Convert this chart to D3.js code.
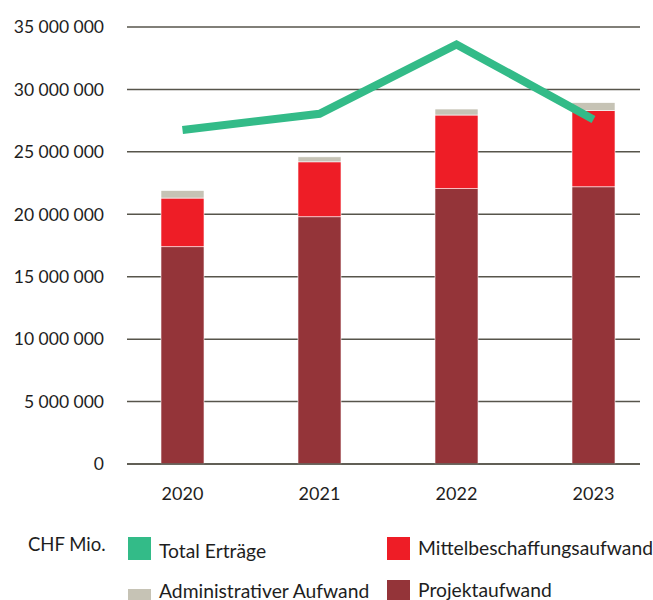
<!DOCTYPE html>
<html>
<head>
<meta charset="utf-8">
<script src="https://cdn.jsdelivr.net/npm/d3@7"></script>
<style>
  body { margin: 0; background: #fff; }
  svg text { font-family: Lato, "Open Sans", sans-serif; fill: #1e1e1e; }
</style>
</head>
<body>
<div id="chart"></div>
<script>
const years = ['2020', '2021', '2022', '2023'];
const projekt = [17400000, 19800000, 22050000, 22200000];
const mittel = [3900000, 4400000, 5900000, 6100000];
const admin = [600000, 400000, 480000, 640000];
const ertraege = [26750000, 28050000, 33600000, 27600000];
const yTicks = [0, 5000000, 10000000, 15000000, 20000000, 25000000, 30000000, 35000000];

const seriesNames = ['Projektaufwand', 'Mittelbeschaffungsaufwand', 'Administrativer Aufwand'];
const colors = {
    'Projektaufwand': '#943439',
    'Mittelbeschaffungsaufwand': '#ee1d26',
    'Administrativer Aufwand': '#c6c3b5',
    'Total Erträge': '#33bb88'
};

const width = 653, height = 600;
const svg = d3.select('#chart').append('svg')
    .attr('width', width)
    .attr('height', height);

const x = d3.scaleBand()
    .domain(years)
    .range([114, 662])
    .paddingInner(0.686)
    .paddingOuter(0.343);

const y = d3.scaleLinear()
    .domain([0, 35000000])
    .range([464, 27]);

const fmt = d3.formatLocale({ decimal: '.', thousands: ' ', grouping: [3], currency: ['', ''] }).format(',d');

// gridlines
svg.append('g').selectAll('line')
    .data(yTicks)
    .enter()
    .append('line')
    .attr('x1', 127)
    .attr('x2', 640)
    .attr('y1', d => y(d))
    .attr('y2', d => y(d))
    .attr('stroke', '#57554b')
    .attr('stroke-width', 1.5);

svg.append('g').selectAll('text')
    .data(yTicks)
    .enter()
    .append('text')
    .attr('x', 104)
    .attr('y', d => y(d))
    .attr('dy', '0.36em')
    .attr('text-anchor', 'end')
    .style('font-size', '17.5px')
    .text(d => fmt(d));

// stacked bars
const table = years.map((yr, i) => ({
    year: yr,
    'Projektaufwand': projekt[i],
    'Mittelbeschaffungsaufwand': mittel[i],
    'Administrativer Aufwand': admin[i]
}));
const stack = d3.stack().keys(seriesNames)(table);

svg.append('g').selectAll('g')
    .data(stack)
    .enter()
    .append('g')
    .attr('fill', d => colors[d.key])
    .selectAll('rect')
    .data(d => d)
    .enter()
    .append('rect')
    .attr('x', d => x(d.data.year))
    .attr('width', x.bandwidth())
    .attr('y', d => y(d[1]))
    .attr('height', d => y(d[0]) - y(d[1]))
    .attr('stroke', '#fff')
    .attr('stroke-width', 0.6);

// redraw baseline over bars
svg.append('line')
    .attr('x1', 127)
    .attr('x2', 640)
    .attr('y1', y(0))
    .attr('y2', y(0))
    .attr('stroke', '#57554b')
    .attr('stroke-width', 1.5);

// year labels
svg.append('g').selectAll('text')
    .data(years)
    .enter()
    .append('text')
    .attr('x', d => x(d) + x.bandwidth() / 2)
    .attr('y', 500)
    .attr('text-anchor', 'middle')
    .style('font-size', '18px')
    .text(d => d);

// total line
const line = d3.line()
    .x((d, i) => x(years[i]) + x.bandwidth() / 2)
    .y(d => y(d));

svg.append('path')
    .datum(ertraege)
    .attr('fill', 'none')
    .attr('stroke', colors['Total Erträge'])
    .attr('stroke-width', 8)
    .attr('stroke-linejoin', 'miter')
    .attr('d', line);

// legend
svg.append('text')
    .attr('x', 28)
    .attr('y', 551)
    .style('font-size', '18.5px')
    .text('CHF Mio.');

const legendItems = [
    { name: 'Total Erträge', sx: 128, sy: 537, ty: 558 },
    { name: 'Mittelbeschaffungsaufwand', sx: 387, sy: 537, ty: 555 },
    { name: 'Administrativer Aufwand', sx: 128, sy: 589, ty: 598 },
    { name: 'Projektaufwand', sx: 387, sy: 580, ty: 597 }
];

const legend = svg.append('g').selectAll('g')
    .data(legendItems)
    .enter()
    .append('g');

legend.append('rect')
    .attr('x', d => d.sx)
    .attr('y', d => d.sy)
    .attr('width', 23)
    .attr('height', 23)
    .attr('fill', d => colors[d.name]);

legend.append('text')
    .attr('x', d => d.sx + 31)
    .attr('y', d => d.ty)
    .style('font-size', '19.3px')
    .text(d => d.name);
</script>
</body>
</html>
